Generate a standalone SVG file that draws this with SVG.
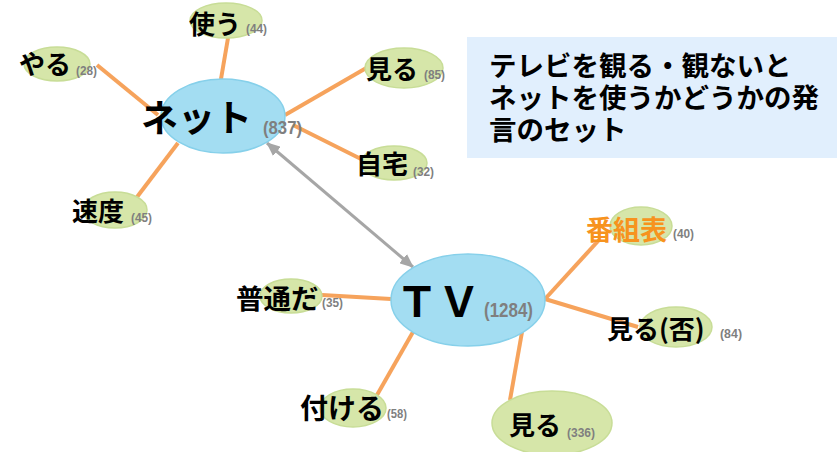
<svg xmlns="http://www.w3.org/2000/svg" width="837" height="452" viewBox="0 0 837 452">
<defs>
<style>
.hub{fill:#a3ddf2;stroke:#86d0ea;stroke-width:1.5}
.leaf{fill:#d6e6a9;stroke:#c8dd97;stroke-width:1.5}
.edge{stroke:#f6a35c;stroke-width:4;stroke-linecap:butt}
.lbl{font-family:"Noto Sans CJK JP","Liberation Sans",sans-serif;font-weight:bold;fill:#000}
.big{font-size:37px}
.mid{font-size:26px}
.cnt{font-family:"Liberation Sans","DejaVu Sans",sans-serif;font-weight:bold;fill:#7f7f7f;font-size:13px}
.cntb{font-family:"Liberation Sans","DejaVu Sans",sans-serif;font-weight:bold;fill:#7f7f7f;font-size:18.5px}
.note{font-family:"Noto Sans CJK JP","Liberation Sans",sans-serif;font-weight:bold;font-size:27.5px;fill:#000}
</style>
<marker id="ah" viewBox="0 0 14 12" refX="13" refY="6" markerWidth="14" markerHeight="12" markerUnits="userSpaceOnUse" orient="auto-start-reverse">
<path d="M0,0 L14,6 L0,12 Z" fill="#a6a6a6"/>
</marker>
</defs>
<rect width="837" height="452" fill="#ffffff"/>
<g id="note">
<rect x="467" y="37" width="372" height="121" fill="#e1effd"/>
<text class="note"><tspan x="489" y="76">テレビを観る・観ないと</tspan><tspan x="489" y="108">ネットを使うかどうかの発</tspan><tspan x="489" y="140">言のセット</tspan></text>
</g>
<g id="connectors">
<line class="edge" x1="228" y1="38" x2="221" y2="79"/>
<line class="edge" x1="97" y1="65" x2="158" y2="115"/>
<line class="edge" x1="368" y1="67" x2="285" y2="115"/>
<line class="edge" x1="363" y1="160" x2="293" y2="125"/>
<line class="edge" x1="137" y1="197" x2="178" y2="143"/>
<line class="edge" x1="545" y1="299" x2="599" y2="240"/>
<line class="edge" x1="545" y1="299" x2="638" y2="327"/>
<line class="edge" x1="522" y1="332" x2="510" y2="400"/>
<line class="edge" x1="413" y1="332" x2="377" y2="395"/>
<line class="edge" x1="391" y1="299" x2="322" y2="295"/>
<line x1="267" y1="143" x2="413" y2="267" stroke="#a6a6a6" stroke-width="3" marker-start="url(#ah)" marker-end="url(#ah)"/>
</g>
<g id="net">
<ellipse class="hub" cx="223" cy="116" rx="62" ry="37"/>
<text class="lbl big" x="141" y="132">ネット</text>
<text class="cntb" x="263" y="134" textLength="39" lengthAdjust="spacingAndGlyphs">(837)</text>
</g>
<g id="tsukau">
<ellipse class="leaf" cx="226" cy="20.5" rx="36" ry="17.5"/>
<text class="lbl mid" x="189" y="34">使う</text>
<text class="cnt" x="246" y="33" textLength="21" lengthAdjust="spacingAndGlyphs">(44)</text>
</g>
<g id="yaru">
<ellipse class="leaf" cx="57" cy="64" rx="33" ry="17"/>
<text class="lbl mid" x="19" y="74">やる</text>
<text class="cnt" x="76" y="75" textLength="21" lengthAdjust="spacingAndGlyphs">(28)</text>
</g>
<g id="miru85">
<ellipse class="leaf" cx="404" cy="68" rx="39" ry="20"/>
<text class="lbl mid" x="366" y="79">見る</text>
<text class="cnt" x="424" y="79" textLength="21" lengthAdjust="spacingAndGlyphs">(85)</text>
</g>
<g id="jitaku">
<ellipse class="leaf" cx="394" cy="163" rx="33" ry="17"/>
<text class="lbl mid" x="356" y="174">自宅</text>
<text class="cnt" x="413" y="176" textLength="21" lengthAdjust="spacingAndGlyphs">(32)</text>
</g>
<g id="sokudo">
<ellipse class="leaf" cx="115" cy="210" rx="32" ry="18"/>
<text class="lbl mid" x="72" y="221">速度</text>
<text class="cnt" x="131" y="222" textLength="21" lengthAdjust="spacingAndGlyphs">(45)</text>
</g>
<g id="tv">
<ellipse class="hub" cx="468" cy="300" rx="77" ry="46"/>
<text class="lbl" x="396" y="317" font-size="42">ＴＶ</text>
<text class="cntb" x="484" y="317" textLength="49" lengthAdjust="spacingAndGlyphs" style="font-size:19.5px">(1284)</text>
</g>
<g id="bangumihyo">
<ellipse class="leaf" cx="641" cy="226" rx="31" ry="19"/>
<text class="lbl" x="586" y="240" font-size="27" style="fill:#f7931e">番組表</text>
<text class="cnt" x="673" y="238" textLength="21" lengthAdjust="spacingAndGlyphs">(40)</text>
</g>
<g id="miruhi">
<ellipse class="leaf" cx="676" cy="327" rx="36" ry="20"/>
<text class="lbl mid" x="607" y="339">見る(否)</text>
<text class="cnt" x="720" y="338" textLength="22" lengthAdjust="spacingAndGlyphs">(84)</text>
</g>
<g id="miru336">
<ellipse class="leaf" cx="552" cy="423" rx="60" ry="32"/>
<text class="lbl mid" x="509" y="435">見る</text>
<text class="cnt" x="567" y="437" textLength="28" lengthAdjust="spacingAndGlyphs">(336)</text>
</g>
<g id="futsuda">
<ellipse class="leaf" cx="291" cy="296" rx="31" ry="17"/>
<text class="lbl" x="236" y="309" font-size="27.5">普通だ</text>
<text class="cnt" x="322" y="307" textLength="21" lengthAdjust="spacingAndGlyphs">(35)</text>
</g>
<g id="tsukeru">
<ellipse class="leaf" cx="353" cy="408" rx="33" ry="19"/>
<text class="lbl" x="300" y="419" font-size="28">付ける</text>
<text class="cnt" x="387" y="418" textLength="20" lengthAdjust="spacingAndGlyphs">(58)</text>
</g>
</svg>
